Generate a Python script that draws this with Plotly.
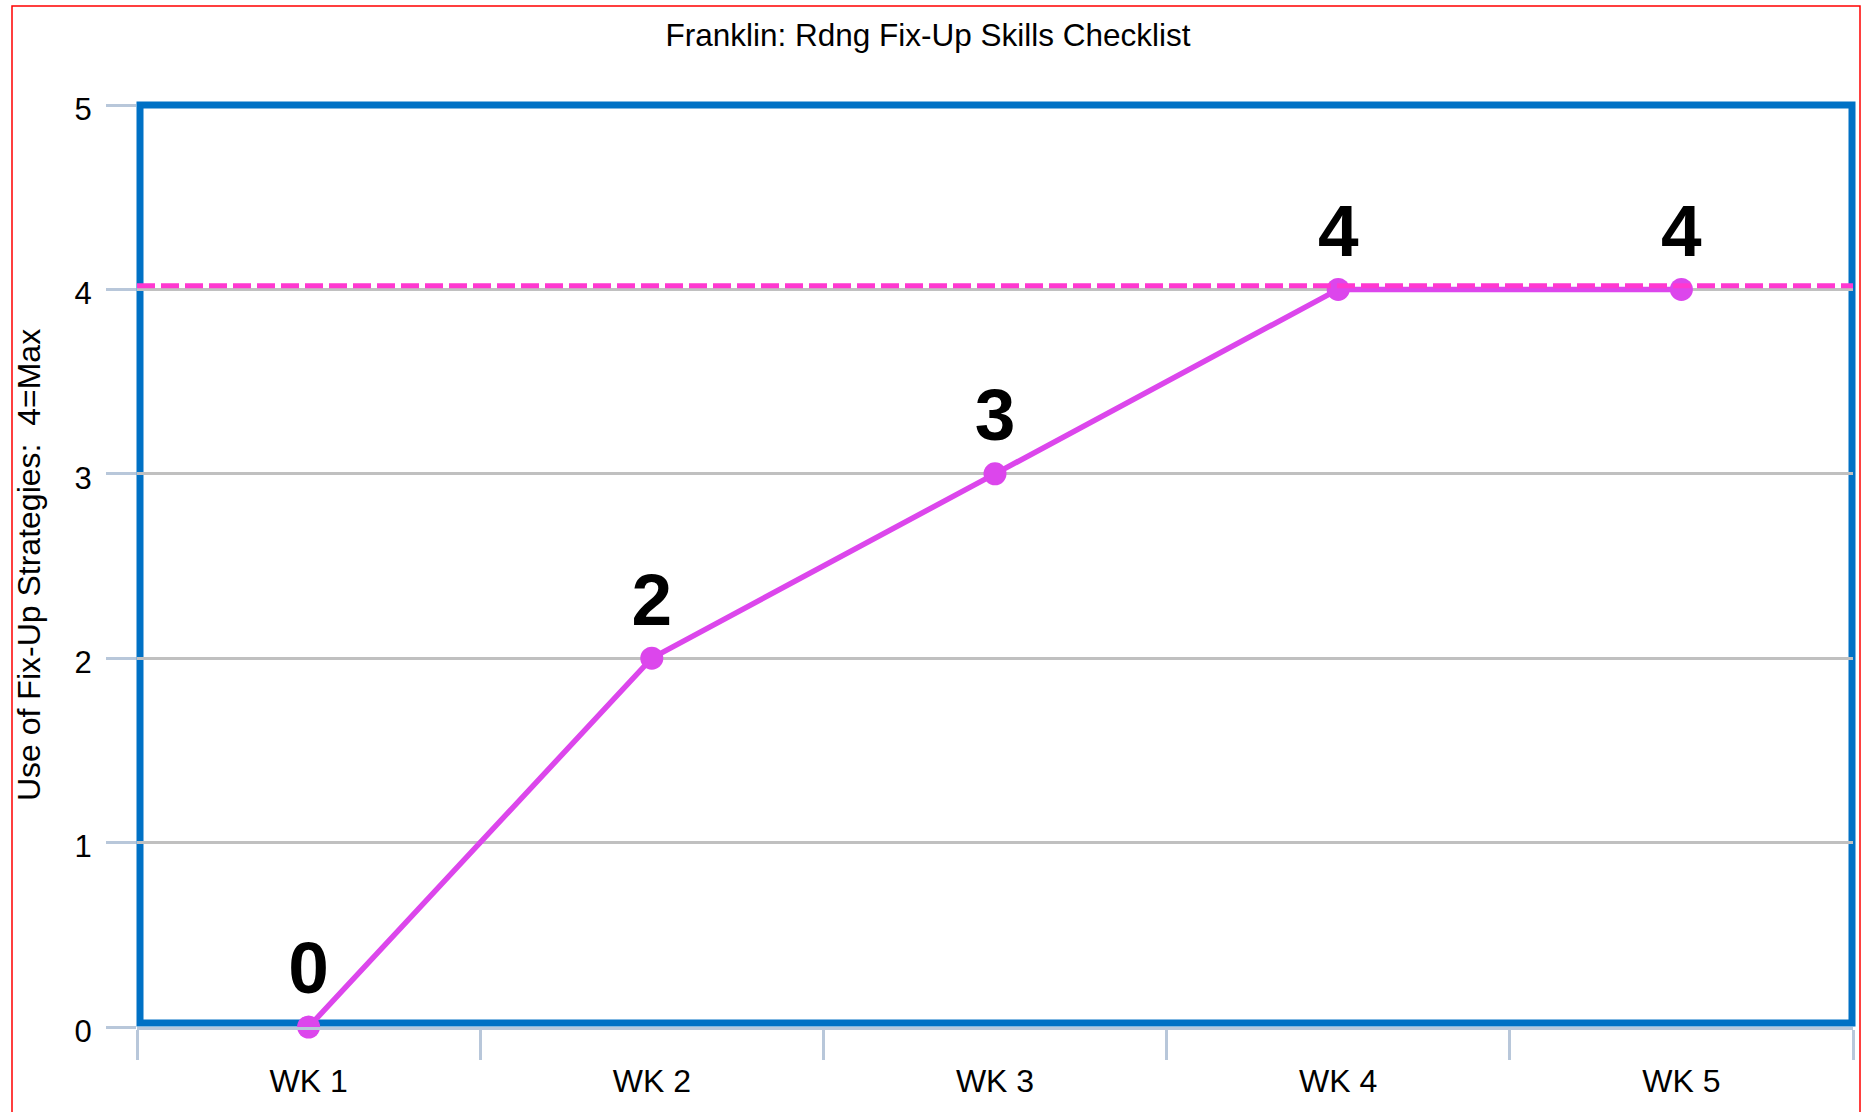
import plotly.graph_objects as go

# Weekly checklist scores
weeks = ["WK 1", "WK 2", "WK 3", "WK 4", "WK 5"]
scores = [0, 2, 3, 4, 4]
goal_level = 4.02
y_ticks = [0, 1, 2, 3, 4, 5]

title_text = "Franklin: Rdng Fix-Up Skills Checklist"
y_title_text = "Use of Fix-Up Strategies:\u00a0 4=Max"

W, H = 1862, 1112
L, R, T, B = 137, 9, 105, 85
plot_w = W - L - R
plot_h = H - T - B

FONT = "Arial, Liberation Sans, sans-serif"
AXIS_GREY = "#b8c7da"
FRAME_BLUE = "#0071c5"

fig = go.Figure()

fig.add_trace(go.Scatter(
    x=weeks,
    y=scores,
    mode="lines+markers+text",
    line=dict(color="#dc46ec", width=5.5),
    marker=dict(color="#dc46ec", size=23),
    text=[str(v) for v in scores],
    textposition="top center",
    textfont=dict(family=FONT, size=73, color="#000000", weight="bold"),
    cliponaxis=False,
    showlegend=False,
    hoverinfo="x+y",
))

def px_to_paper_x(px):
    return (px - L) / plot_w

def px_to_paper_y(py):
    return (H - B - py) / plot_h

shapes = [
    # goal line
    dict(type="line", xref="paper", yref="y", x0=0, x1=1,
         y0=goal_level, y1=goal_level,
         line=dict(color="#ff38d0", width=5, dash="18px,6px"), layer="above"),
    # plot frame
    dict(type="rect", xref="paper", yref="paper",
         x0=px_to_paper_x(140), x1=px_to_paper_x(1852),
         y0=px_to_paper_y(1023), y1=1,
         line=dict(color=FRAME_BLUE, width=7), layer="between"),
    # outer red border
    dict(type="rect", xref="paper", yref="paper",
         x0=px_to_paper_x(12), x1=px_to_paper_x(1860),
         y0=px_to_paper_y(1130), y1=px_to_paper_y(6),
         line=dict(color="#ff0000", width=1.5), layer="above"),
]

annotations = [
    dict(text=y_title_text, xref="paper", yref="paper",
         x=px_to_paper_x(29), y=px_to_paper_y(565),
         xanchor="center", yanchor="middle", textangle=-90,
         showarrow=False, font=dict(family=FONT, size=32, color="#000000")),
]

fig.update_layout(
    width=W, height=H,
    margin=dict(l=L, r=R, t=T, b=B, autoexpand=False),
    paper_bgcolor="white",
    plot_bgcolor="white",
    title=dict(text=title_text, xref="paper", yref="container",
               x=px_to_paper_x(928), y=1 - 35 / H,
               xanchor="center", yanchor="middle",
               font=dict(family=FONT, size=31.5, color="#000000")),
    shapes=shapes,
    annotations=annotations,
    xaxis=dict(
        type="category",
        range=[-0.5, 4.5],
        showgrid=False,
        showline=True, linecolor=AXIS_GREY, linewidth=3,
        ticks="outside", tickson="boundaries", ticklen=30,
        tickcolor=AXIS_GREY, tickwidth=3,
        ticklabelstandoff=24,
        tickfont=dict(family=FONT, size=32, color="#000000"),
        zeroline=False,
        fixedrange=True,
    ),
    yaxis=dict(
        range=[0, 5],
        tickvals=y_ticks,
        showgrid=True, gridcolor="#c0c0c0", gridwidth=2.5,
        showline=False,
        ticks="outside", ticklen=30, tickcolor=AXIS_GREY, tickwidth=3,
        ticklabelstandoff=8,
        ticklabelshift=4,
        tickfont=dict(family=FONT, size=31, color="#000000"),
        zeroline=False,
        fixedrange=True,
    ),
)

fig.write_html("out.html")
